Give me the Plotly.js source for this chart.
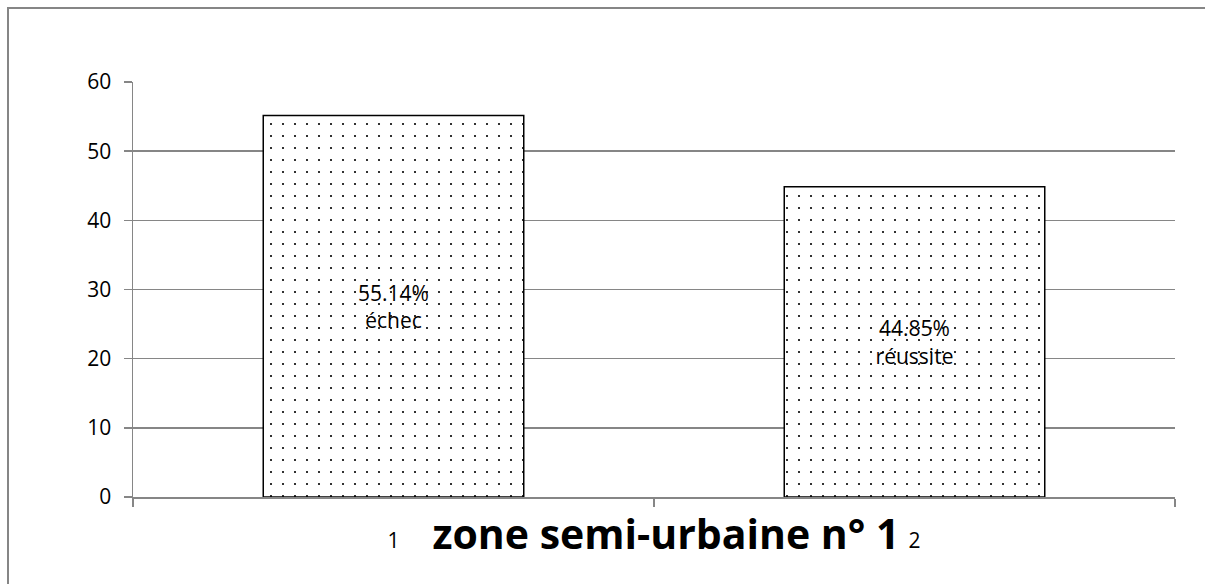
<!DOCTYPE html>
<html>
<head>
<meta charset="utf-8">
<script src="https://cdn.plot.ly/plotly-3.0.1.min.js"></script>
<style>
  html, body { margin: 0; padding: 0; background: #fff; }
  #chart { width: 1205px; height: 584px; }
</style>
</head>
<body>
<div id="chart"></div>
<script>
// categories and values
var categories = ["1", "2"];
var values = [55.14, 44.85];
var barLabels = ["55.14%<br>échec", "44.85%<br>réussite"];
var yTicks = [0, 10, 20, 30, 40, 50, 60];

var gray = "#868686";

var trace = {
  x: categories,
  y: values,
  type: "bar",
  text: barLabels,
  textposition: "inside",
  insidetextanchor: "middle",
  textangle: 0,
  textfont: { family: "Open Sans, sans-serif", size: 21, color: "#000" },
  hoverinfo: "none",
  marker: {
    color: "#fff",
    line: { color: "#000", width: 1.5 },
    pattern: { shape: ".", fgcolor: "#000", bgcolor: "#fff", size: 12, solidity: 0.025 }
  }
};

var layout = {
  width: 1205,
  height: 584,
  margin: { l: 133, r: 30, t: 82, b: 87 },
  paper_bgcolor: "#fff",
  plot_bgcolor: "#fff",
  showlegend: false,
  bargap: 0.5,
  font: { family: "Open Sans, sans-serif", size: 21, color: "#000" },
  title: {
    text: "<b>zone semi-urbaine n° 1</b>",
    font: { family: "Open Sans, sans-serif", size: 41, color: "#000" },
    xref: "paper",
    x: 0.5115,
    xanchor: "center",
    yref: "container",
    y: 1 - 535 / 584,
    yanchor: "middle"
  },
  xaxis: {
    type: "category",
    showgrid: false,
    showline: true,
    linecolor: gray,
    linewidth: 1.5,
    ticks: "outside",
    tickson: "boundaries",
    ticklen: 8,
    tickcolor: gray,
    tickwidth: 1.5,
    ticklabelstandoff: 24,
    tickfont: { size: 21 },
    fixedrange: true
  },
  yaxis: {
    range: [0, 60],
    tickvals: yTicks,
    showgrid: true,
    gridcolor: gray,
    gridwidth: 1.5,
    showline: true,
    linecolor: gray,
    linewidth: 1.5,
    zeroline: false,
    ticks: "outside",
    ticklen: 8,
    tickcolor: gray,
    tickwidth: 1.5,
    ticklabelstandoff: 8,
    tickfont: { size: 21 },
    fixedrange: true
  },
  shapes: [{
    type: "rect",
    xref: "paper", yref: "paper",
    x0: -125 / 1042, x1: 1.2,
    y0: -0.5, y1: (497 - 8) / 415,
    line: { color: gray, width: 2 },
    fillcolor: "rgba(0,0,0,0)",
    layer: "below"
  }]
};

Plotly.newPlot("chart", [trace], layout, { displayModeBar: false, staticPlot: true });
</script>
</body>
</html>
